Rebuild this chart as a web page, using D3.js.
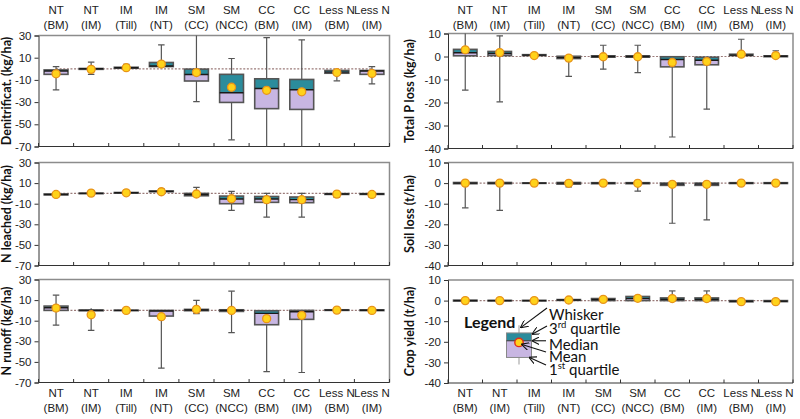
<!DOCTYPE html>
<html><head><meta charset="utf-8">
<script src="https://cdn.jsdelivr.net/npm/d3@7"></script>
<style>body{margin:0;background:#fff}svg{display:block}</style>
</head><body><svg id="c" width="800" height="419"></svg>
<script>
const categories = [["NT","(BM)"],["NT","(IM)"],["IM","(Till)"],["IM","(NT)"],["SM","(CC)"],["SM","(NCC)"],["CC","(BM)"],["CC","(IM)"],["Less N","(BM)"],["Less N","(IM)"]];

// Denitrification (kg/ha)
const denitLo   = [-19, -5, -1, 1.5, -29.5, -64, -80, -80, -10.8, -13.6];
const denitQ1   = [-5, -0.5, 0.5, 2, -11, -30.3, -35.9, -36.6, -4, -5];
const denitMed  = [-2, 0, 1, 2.5, -5.1, -21.6, -17.7, -18.9, -3, -2];
const denitQ3   = [-1, 0.3, 1.4, 5.7, -0.3, -5, -9, -9.6, -1.5, -1.5];
const denitHi   = [2, 6, 4, 21.5, 40, 9.3, 28, 26, 0, 2];
const denitMean = [-4.5, -0.5, 1, 4.3, -3.4, -16.6, -19.4, -20.7, -3.4, -4.2];

// N leached (kg/ha)
const leachLo   = [-1.5, -0.5, 0, 1.5, -3.5, -16.5, -23, -23, -4, -4];
const leachQ1   = [-1.4, -0.3, 0.3, 1.6, -2.3, -10, -8.7, -9, -1, -1];
const leachMed  = [-1, 0, 0.6, 2, -1, -5.5, -5.5, -6, -0.6, -0.6];
const leachQ3   = [-0.6, 0.3, 0.9, 2.4, 0, -2.6, -3, -3.5, -0.2, -0.2];
const leachHi   = [-0.5, 0.5, 1, 4.5, 5.8, 2, 0, 0, 0, 0];
const leachMean = [-1, 0.3, 0.6, 1.6, -0.6, -5.2, -6.1, -6.1, -0.7, -1];

// N runoff (kg/ha)
const runLo   = [-14.2, -19.4, -0.3, -56, -3.2, -21.6, -59.4, -60.3, -0.2, -0.3];
const runQ1   = [0, -0.4, -0.2, -5.5, -0.3, -1, -13.9, -8.7, 0, -0.2];
const runMed  = [2.6, 0, 0, -0.6, 0.4, 0, -2.9, -1.3, 0.3, 0.2];
const runQ3   = [4.2, 0.4, 0.2, 0, 1, 0.6, -0.3, 0, 0.6, 0.5];
const runHi   = [14.8, 2, 0.3, 0, 9.7, 18.7, 0, 0, 0.7, 0.6];
const runMean = [2.3, -4.2, 0, -6.1, 1, 0, -8, -4.8, 0.3, 0];

// Total P loss (kg/ha)
const pLo   = [-14.6, -19.7, 0.3, -8.6, -5.5, -7, -35, -22.9, 0.3, -0.2];
const pQ1   = [0.3, 0.4, 0.4, -0.9, -0.3, -0.3, -4.5, -3.6, 0.4, -0.1];
const pMed  = [1.6, 1.3, 0.6, -0.5, 0, 0, -1.3, -1.6, 0.6, 0.1];
const pQ3   = [3.1, 2.2, 0.8, 0.1, 0.3, 0.3, -0.1, -0.3, 1, 0.3];
const pHi   = [12, 9, 1.6, 0.1, 4.9, 4.9, -0.1, -0.3, 7.5, 2.5];
const pMean = [2.9, 1.7, 0.4, -0.7, -0.1, -0.1, -2.6, -2.2, 1, 0.4];

// Soil loss (t/ha)
const soilLo   = [-12, -13.2, -0.2, -1.8, -0.3, -3.9, -19.5, -17.9, -0.2, -0.2];
const soilQ1   = [-0.3, -0.3, -0.1, -0.5, -0.3, -0.3, -1.1, -1.1, -0.2, -0.2];
const soilMed  = [0, 0, 0, 0, 0, 0, -0.5, -0.5, 0, 0];
const soilQ3   = [0.3, 0.3, 0.1, 0.3, 0.2, 0.2, 0, 0, 0.2, 0.2];
const soilHi   = [0.3, 0.3, 0.1, 0.3, 0.2, 0.2, 0, 0, 0.2, 0.2];
const soilMean = [0, 0, 0, -0.1, 0, -0.1, -0.6, -0.6, 0, 0];

// Crop yield (t/ha)
const cropLo   = [-0.3, -0.2, -0.2, 0, 0, 0, 0, 0, -0.6, -0.6];
const cropQ1   = [-0.2, -0.1, -0.1, 0.1, 0, 0, 0, 0, -0.6, -0.5];
const cropMed  = [0, 0, 0, 0.3, 0.5, 1, 0.6, 0.6, -0.3, -0.3];
const cropQ3   = [0.2, 0.1, 0.1, 0.5, 1, 2, 1.3, 1.3, 0, 0];
const cropHi   = [0.3, 0.2, 0.2, 0.6, 1.2, 2.4, 4.7, 4.7, 0.1, 0.1];
const cropMean = [0, 0, 0, 0.3, 0.6, 1.1, 1, 1, -0.5, -0.5];

const leftTicks = [30, 10, -10, -30, -50, -70];
const rightTicks = [10, 0, -10, -20, -30, -40];

// Legend example values (crop yield scale)
const legendVals = {lo: -31, q1: -27.6, med: -19.5, q3: -15.7, hi: -12, mean: -20.3};
const legendLabels = ["Whisker", "3rd quartile", "Median", "Mean", "1st quartile"];

const panels = [
  {title:"Denitrificat. (kg/ha)", x0:38.5, x1:389.5, y0:35.5, y1:146.5, dom:[-70,30], ticks:leftTicks, d:[denitLo,denitQ1,denitMed,denitQ3,denitHi,denitMean], top:true},
  {title:"N leached (kg/ha)", x0:38.5, x1:389.5, y0:162.5, y1:265.5, dom:[-70,30], ticks:leftTicks, d:[leachLo,leachQ1,leachMed,leachQ3,leachHi,leachMean]},
  {title:"N runoff (kg/ha)", x0:38.5, x1:389.5, y0:279.5, y1:382.5, dom:[-70,30], ticks:leftTicks, d:[runLo,runQ1,runMed,runQ3,runHi,runMean], bottom:true},
  {title:"Total P loss (kg/ha)", x0:448, x1:793, y0:33.5, y1:148.5, dom:[-40,10], ticks:rightTicks, d:[pLo,pQ1,pMed,pQ3,pHi,pMean], top:true},
  {title:"Soil loss (t/ha)", x0:448, x1:793, y0:162.5, y1:265.5, dom:[-40,10], ticks:rightTicks, d:[soilLo,soilQ1,soilMed,soilQ3,soilHi,soilMean]},
  {title:"Crop yield (t/ha)", x0:448, x1:793, y0:280, y1:383, dom:[-40,10], ticks:rightTicks, d:[cropLo,cropQ1,cropMed,cropQ3,cropHi,cropMean], bottom:true, legend:true}
];

const TEAL = "#2b8c9c", LAV = "#c8b6e2", BOXSTROKE = "#555", WHISK = "#555";
const svg = d3.select("#c");
const defs = svg.append("defs");
defs.append("marker").attr("id","arr").attr("viewBox","0 0 10 10").attr("refX",9).attr("refY",5)
  .attr("markerWidth",7).attr("markerHeight",7).attr("orient","auto-start-reverse")
  .append("path").attr("d","M0,0 L10,5 L0,10").attr("fill","none").attr("stroke","#111").attr("stroke-width",1.4);

const labelFont = "'Liberation Sans', Arial, sans-serif";

panels.forEach((p, pi) => {
  const x = d3.scaleBand().domain(d3.range(categories.length)).range([p.x0, p.x1]);
  const y = d3.scaleLinear().domain(p.dom).range([p.y1, p.y0]);
  const g = svg.append("g");
  const cid = "clip" + pi;
  defs.append("clipPath").attr("id", cid).append("rect")
    .attr("x", p.x0).attr("y", p.y0).attr("width", p.x1 - p.x0).attr("height", p.y1 - p.y0);

  g.append("path").attr("d", `M${p.x0},${p.y0}H${p.x1}V${p.y1}`).attr("fill","none").attr("stroke","#8c8c8c").attr("stroke-width",1.5);

  const ya = d3.axisLeft(y).tickValues(p.ticks).tickSize(4).tickPadding(3).tickFormat(d3.format("d"));
  const yg = g.append("g").attr("transform",`translate(${p.x0},0)`).call(ya);
  yg.select(".domain").attr("stroke","#333");
  yg.selectAll(".tick line").attr("stroke","#333");
  yg.selectAll("text").attr("font-family",labelFont).attr("font-size",11.5).attr("fill","#222")
    .text(d => d < 0 ? "-" + Math.abs(d) : d);

  const xa = g.append("g");
  xa.append("line").attr("x1",p.x0).attr("x2",p.x1).attr("y1",p.y1).attr("y2",p.y1).attr("stroke","#333");
  d3.range(categories.length + 1).forEach(i => {
    const xx = i < categories.length ? x(i) : p.x1;
    xa.append("line").attr("x1",xx).attr("x2",xx).attr("y1",p.y1).attr("y2",p.y1-3.5).attr("stroke","#333");
  });

  const tx = p.x0 < 100 ? 8 : 411;
  g.append("text").attr("transform",`translate(${tx},${(p.y0+p.y1)/2}) rotate(-90)`)
    .attr("text-anchor","middle").attr("dominant-baseline","middle")
    .attr("font-family","Lato, 'Open Sans', sans-serif").attr("font-weight","bold").attr("font-size",12.5).attr("fill","#111")
    .text(p.title);

  g.append("line").attr("x1", x(0)+x.bandwidth()/2).attr("x2", x(categories.length-1)+x.bandwidth()/2)
    .attr("y1", y(0)).attr("y2", y(0)).attr("stroke","#9a7a78").attr("stroke-width",1.2).attr("stroke-dasharray","2,1.6");

  const [lo,q1,med,q3,hi,mean] = p.d;
  const bw = x.bandwidth() * 0.68, cw = 6.5;
  const body = g.append("g").attr("clip-path",`url(#${cid})`);
  categories.forEach((c, i) => {
    const cx = x(i) + x.bandwidth()/2;
    body.append("line").attr("x1",cx).attr("x2",cx).attr("y1",y(hi[i])).attr("y2",y(q3[i])).attr("stroke",WHISK).attr("stroke-width",1.2);
    body.append("line").attr("x1",cx).attr("x2",cx).attr("y1",y(q1[i])).attr("y2",y(lo[i])).attr("stroke",WHISK).attr("stroke-width",1.2);
    if (hi[i] - q3[i] > 0.8 * (p.dom[1]-p.dom[0]) / 100 * 2)
      body.append("line").attr("x1",cx-cw/2).attr("x2",cx+cw/2).attr("y1",y(hi[i])).attr("y2",y(hi[i])).attr("stroke",WHISK).attr("stroke-width",1.2);
    if (q1[i] - lo[i] > 0.8 * (p.dom[1]-p.dom[0]) / 100 * 2)
      body.append("line").attr("x1",cx-cw/2).attr("x2",cx+cw/2).attr("y1",y(lo[i])).attr("y2",y(lo[i])).attr("stroke",WHISK).attr("stroke-width",1.2);
    body.append("rect").attr("x",cx-bw/2).attr("width",bw).attr("y",y(q3[i])).attr("height",Math.max(0,y(med[i])-y(q3[i]))).attr("fill",TEAL);
    body.append("rect").attr("x",cx-bw/2).attr("width",bw).attr("y",y(med[i])).attr("height",Math.max(0,y(q1[i])-y(med[i]))).attr("fill",LAV);
    body.append("rect").attr("x",cx-bw/2).attr("width",bw).attr("y",y(q3[i])).attr("height",Math.max(0.5,y(q1[i])-y(q3[i])))
      .attr("fill","none").attr("stroke",BOXSTROKE).attr("stroke-width",1.6);
    body.append("line").attr("x1",cx-bw/2).attr("x2",cx+bw/2).attr("y1",y(med[i])).attr("y2",y(med[i])).attr("stroke","#1a1a1a").attr("stroke-width",1.4);
    body.append("circle").attr("cx",cx).attr("cy",y(mean[i])).attr("r",4).attr("fill","#ffd21a").attr("stroke","#e8941a").attr("stroke-width",1.3);
  });

  const placeLabels = (ly) => {
    categories.forEach((c, i) => {
      const cx = x(i) + x.bandwidth()/2;
      const t = g.append("text").attr("text-anchor","middle").attr("font-family",labelFont).attr("font-size",11.5).attr("fill","#222");
      t.append("tspan").attr("x",cx).attr("y",ly).text(c[0]);
      t.append("tspan").attr("x",cx).attr("y",ly+15).text(c[1]);
    });
  };
  if (p.top) placeLabels(13.5);
  if (p.bottom) placeLabels(396.5);

  if (p.legend) {
    const lx = 519, lbw = 25;
    const L = legendVals;
    const lg = g.append("g");
    lg.append("line").attr("x1",lx).attr("x2",lx).attr("y1",y(L.hi)).attr("y2",y(L.lo)).attr("stroke","#aaa").attr("stroke-width",1.2);
    lg.append("rect").attr("x",lx-lbw/2).attr("width",lbw).attr("y",y(L.q3)).attr("height",y(L.med)-y(L.q3)).attr("fill",TEAL);
    lg.append("rect").attr("x",lx-lbw/2).attr("width",lbw).attr("y",y(L.med)).attr("height",y(L.q1)-y(L.med)).attr("fill",LAV);
    lg.append("rect").attr("x",lx-lbw/2).attr("width",lbw).attr("y",y(L.q3)).attr("height",y(L.q1)-y(L.q3)).attr("fill","none").attr("stroke","#888").attr("stroke-width",1);
    lg.append("line").attr("x1",lx-lbw/2).attr("x2",lx+lbw/2).attr("y1",y(L.med)).attr("y2",y(L.med)).attr("stroke","#333").attr("stroke-width",1);
    lg.append("circle").attr("cx",lx).attr("cy",y(L.mean)).attr("r",4.2).attr("fill","#ffd21a").attr("stroke","#e0301a").attr("stroke-width",1.4);
    lg.append("text").attr("x",464).attr("y",328).attr("font-family","Lato, sans-serif").attr("font-weight","bold").attr("font-size",16).attr("fill","#111").text("Legend");
    const tf = "Lato, 'Open Sans', sans-serif";
    const ys = [319.5, 334, 349.5, 361.5, 374.5];
    legendLabels.forEach((s, k) => {
      const t = lg.append("text").attr("x",549).attr("y",ys[k]).attr("font-family",tf).attr("font-size",15).attr("fill","#111");
      if (k === 1) { t.append("tspan").text("3"); t.append("tspan").attr("dy",-6).attr("font-size",9.5).text("rd"); t.append("tspan").attr("dy",6).text(" quartile"); }
      else if (k === 4) { t.append("tspan").text("1"); t.append("tspan").attr("dy",-6).attr("font-size",9.5).text("st"); t.append("tspan").attr("dy",6).text("  quartile"); }
      else t.text(s);
    });
    const arrows = [
      [547, 308, lx+2, y(L.hi)+2],
      [547, 326, lx+lbw/2+1, y(L.q3)+1],
      [546, y(L.med), lx+lbw/2+1, y(L.med)],
      [546, 352, lx+3, y(L.mean)+2],
      [546, 365, lx+lbw/2-2, y(L.q1)]
    ];
    arrows.forEach(a => lg.append("line").attr("x1",a[0]).attr("y1",a[1]).attr("x2",a[2]).attr("y2",a[3])
      .attr("stroke","#111").attr("stroke-width",1.1).attr("marker-end","url(#arr)"));
  }
});
</script></body></html>
